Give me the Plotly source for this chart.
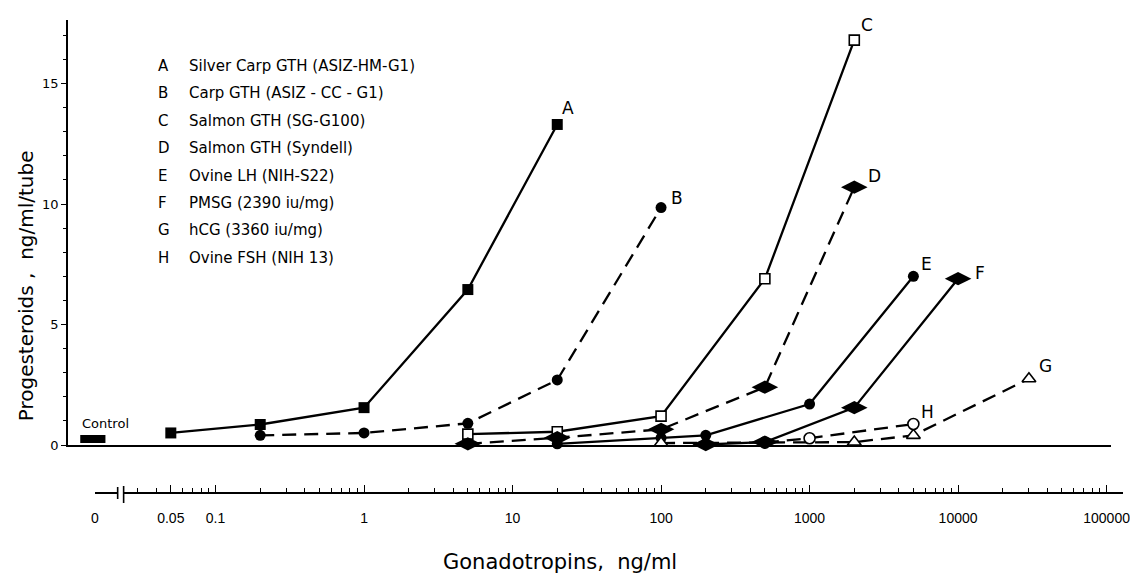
import math
import plotly.graph_objects as go

# ---------------- data ----------------
series_codes = ["A", "B", "C", "D", "E", "F", "G", "H"]
series_names = [
    "Silver Carp GTH (ASIZ-HM-G1)",
    "Carp GTH (ASIZ - CC - G1)",
    "Salmon GTH (SG-G100)",
    "Salmon GTH (Syndell)",
    "Ovine LH (NIH-S22)",
    "PMSG (2390 iu/mg)",
    "hCG (3360 iu/mg)",
    "Ovine FSH (NIH 13)",
]
conc_A = [0.05, 0.2, 1, 5, 20]
prog_A = [0.5, 0.85, 1.55, 6.45, 13.3]
conc_B = [0.2, 1, 5, 20, 100]
prog_B = [0.4, 0.5, 0.9, 2.7, 9.85]
conc_C = [5, 20, 100, 500, 2000]
prog_C = [0.45, 0.55, 1.2, 6.9, 16.8]
conc_D = [5, 20, 100, 500, 2000]
prog_D = [0.05, 0.3, 0.65, 2.4, 10.7]
conc_E = [20, 100, 200, 1000, 5000]
prog_E = [0.05, 0.3, 0.4, 1.7, 7.0]
conc_F = [200, 500, 2000, 10000]
prog_F = [0.02, 0.12, 1.55, 6.9]
conc_G = [100, 2000, 5000, 30000]
prog_G = [0.08, 0.12, 0.4, 2.75]
conc_H = [500, 1000, 5000]
prog_H = [0.1, 0.28, 0.87]
control_conc = [0]
control_prog = [0.25]

y_tickvals = [0, 5, 10, 15]
x_tickvals = [0.05, 0.1, 1, 10, 100, 1000, 10000, 100000]
x_ticktext = ["0.05", "0.1", "1", "10", "100", "1000", "10000", "100000"]

# ---------------- styling ----------------
BLACK = "black"
DASH = "14px,8px"
FONT = "DejaVu Sans"
styles = {
    "A": dict(symbol="square", size=11, color=BLACK, lw=0, dash="solid"),
    "B": dict(symbol="circle", size=11, color=BLACK, lw=0, dash=DASH),
    "C": dict(symbol="square", size=10, color="white", lw=1.6, dash="solid"),
    "D": dict(symbol="diamond-wide", size=19, color=BLACK, lw=0, dash=DASH),
    "E": dict(symbol="circle", size=11, color=BLACK, lw=0, dash="solid"),
    "F": dict(symbol="diamond-wide", size=19, color=BLACK, lw=0, dash="solid"),
    "G": dict(symbol="triangle-up", size=12, color="white", lw=1.6, dash=DASH),
    "H": dict(symbol="circle", size=11, color="white", lw=1.6, dash=DASH),
}
label_shift = {
    "A": (11, 16), "B": (16, 10), "C": (13, 15), "D": (20, 11),
    "E": (13, 12), "F": (22, 6), "G": (17, 13), "H": (14, 12),
}
draw_order = ["A", "B", "C", "D", "E", "G", "H", "F"]

data = {
    "A": (conc_A, prog_A), "B": (conc_B, prog_B), "C": (conc_C, prog_C),
    "D": (conc_D, prog_D), "E": (conc_E, prog_E), "F": (conc_F, prog_F),
    "G": (conc_G, prog_G), "H": (conc_H, prog_H),
}

fig = go.Figure()
# empty traces so that the lower scale axes get drawn
fig.add_trace(go.Scatter(x=[None], y=[None], xaxis="x2", yaxis="y",
                         showlegend=False, hoverinfo="skip"))
fig.add_trace(go.Scatter(x=[None], y=[None], xaxis="x4", yaxis="y",
                         showlegend=False, hoverinfo="skip"))

for code in draw_order:
    xs, ys = data[code]
    st = styles[code]
    fig.add_trace(go.Scatter(
        x=xs, y=ys, mode="lines+markers", xaxis="x", yaxis="y",
        line=dict(color=BLACK, width=2.3, dash=st["dash"]),
        marker=dict(symbol=st["symbol"], size=st["size"], color=st["color"],
                    line=dict(color=BLACK, width=st["lw"])),
        cliponaxis=False, showlegend=False, hoverinfo="skip",
    ))
    dx, dy = label_shift[code]
    # annotations on a log axis take log10 positions
    fig.add_annotation(x=math.log10(xs[-1]), y=ys[-1], xref="x", yref="y",
                       text=code, showarrow=False, xshift=dx, yshift=dy,
                       font=dict(family=FONT, size=17, color=BLACK))

# control (concentration 0) on its own small linear axis
fig.add_trace(go.Scatter(
    x=control_conc, y=control_prog, mode="markers", xaxis="x3", yaxis="y",
    marker=dict(symbol="line-ew", size=18, color=BLACK,
                line=dict(color=BLACK, width=8)),
    cliponaxis=False, showlegend=False, hoverinfo="skip",
))

# ---------------- geometry helpers ----------------
W, H = 1130, 582
ML, MR, MT, MB = 68, 0, 20, 89
PW, PH = W - ML - MR, H - MT - MB


def px(xp):
    return (xp - ML) / PW


def py(yp):
    return (H - MB - yp) / PH


PX_PER_DEC = 149.5
X_ONE = 366.0  # pixel position of 1 ng/ml


def lg(xp):
    return (xp - X_ONE) / PX_PER_DEC


minor_vals = []
for k in range(-2, 6):
    for m in range(2, 10):
        v = m * 10 ** k
        if 0.025 < v < 130000 and v != 0.05:
            minor_vals.append(v)

fig.update_layout(
    width=W, height=H,
    margin=dict(l=ML, r=MR, t=MT, b=MB, pad=0),
    paper_bgcolor="white", plot_bgcolor="rgba(0,0,0,0)",
    font=dict(family=FONT, color=BLACK),
    xaxis=dict(
        type="log", domain=[0, px(1118)], range=[lg(68), lg(1118)],
        anchor="y", showline=True, linecolor=BLACK, linewidth=1.6,
        showgrid=False, zeroline=False, ticks="", showticklabels=False,
    ),
    xaxis2=dict(
        type="log", domain=[px(124), 1], range=[lg(124), lg(1130)],
        anchor="free", position=0, showline=True, linecolor=BLACK,
        linewidth=1.6, showgrid=False, zeroline=False,
        tickmode="array", tickvals=x_tickvals, ticktext=x_ticktext,
        ticks="inside", ticklen=7, tickwidth=1.2, tickcolor=BLACK,
        ticklabelstandoff=12, ticklabeloverflow="allow",
        tickfont=dict(family="Liberation Sans", size=14, color=BLACK),
        minor=dict(tickmode="array", tickvals=minor_vals, ticks="inside",
                   ticklen=4, tickwidth=1.1, tickcolor=BLACK),
    ),
    xaxis3=dict(
        domain=[0, 2 * (px(93))], range=[-1, 1], anchor="y", visible=False,
    ),
    xaxis4=dict(
        domain=[px(95), px(118)], range=[0, 1], anchor="free", position=0,
        showline=True, linecolor=BLACK, linewidth=1.6, showgrid=False,
        zeroline=False, tickmode="array", tickvals=[0], ticktext=["0"],
        ticks="inside", ticklen=7, tickwidth=1.2, tickcolor=BLACK,
        ticklabelstandoff=12, ticklabeloverflow="allow",
        tickfont=dict(family="Liberation Sans", size=14, color=BLACK),
    ),
    yaxis=dict(
        domain=[py(445), 1], range=[0, (445 - 20) / 24.1], anchor="x",
        showline=True, linecolor=BLACK, linewidth=1.6, showgrid=False,
        zeroline=False, tickmode="array", tickvals=y_tickvals,
        ticks="outside", ticklen=5, tickwidth=1.2, tickcolor=BLACK,
        tickfont=dict(family=FONT, size=13, color=BLACK),
        minor=dict(dtick=1, ticks="outside", ticklen=3, tickwidth=1,
                   tickcolor=BLACK),
    ),
)

# axis break marks on the lower scale
for xb, y0, y1 in [(118, 487, 499), (124, 486, 503)]:
    fig.add_shape(type="line", xref="paper", yref="paper",
                  x0=px(xb), x1=px(xb), y0=py(y1), y1=py(y0),
                  line=dict(color=BLACK, width=1.6))

# key / legend text
for i, (code, name) in enumerate(zip(series_codes, series_names)):
    yrow = 66 + 27.4 * i
    fig.add_annotation(x=px(157), y=py(yrow), xref="paper", yref="paper",
                       text=code, showarrow=False, xanchor="left",
                       yanchor="middle",
                       font=dict(family=FONT, size=15, color=BLACK))
    fig.add_annotation(x=px(188), y=py(yrow), xref="paper", yref="paper",
                       text=name, showarrow=False, xanchor="left",
                       yanchor="middle",
                       font=dict(family=FONT, size=15, color=BLACK))

# "Control" label
fig.add_annotation(x=px(80), y=py(423), xref="paper", yref="paper",
                   text="Control", showarrow=False, xanchor="left",
                   yanchor="middle",
                   font=dict(family=FONT, size=13, color=BLACK))

# axis titles
fig.add_annotation(x=px(563), y=py(562), xref="paper", yref="paper",
                   text="Gonadotropins,  ng/ml", showarrow=False,
                   xanchor="center", yanchor="middle",
                   font=dict(family=FONT, size=21, color=BLACK))
fig.add_annotation(x=px(26), y=py(286), xref="paper", yref="paper",
                   text="Progesteroids ,  ng/ml/tube", showarrow=False,
                   textangle=-90, xanchor="center", yanchor="middle",
                   font=dict(family=FONT, size=20, color=BLACK))

fig.write_html("out.html", config={"displayModeBar": False},
               post_script="document.body.style.margin='0';")
